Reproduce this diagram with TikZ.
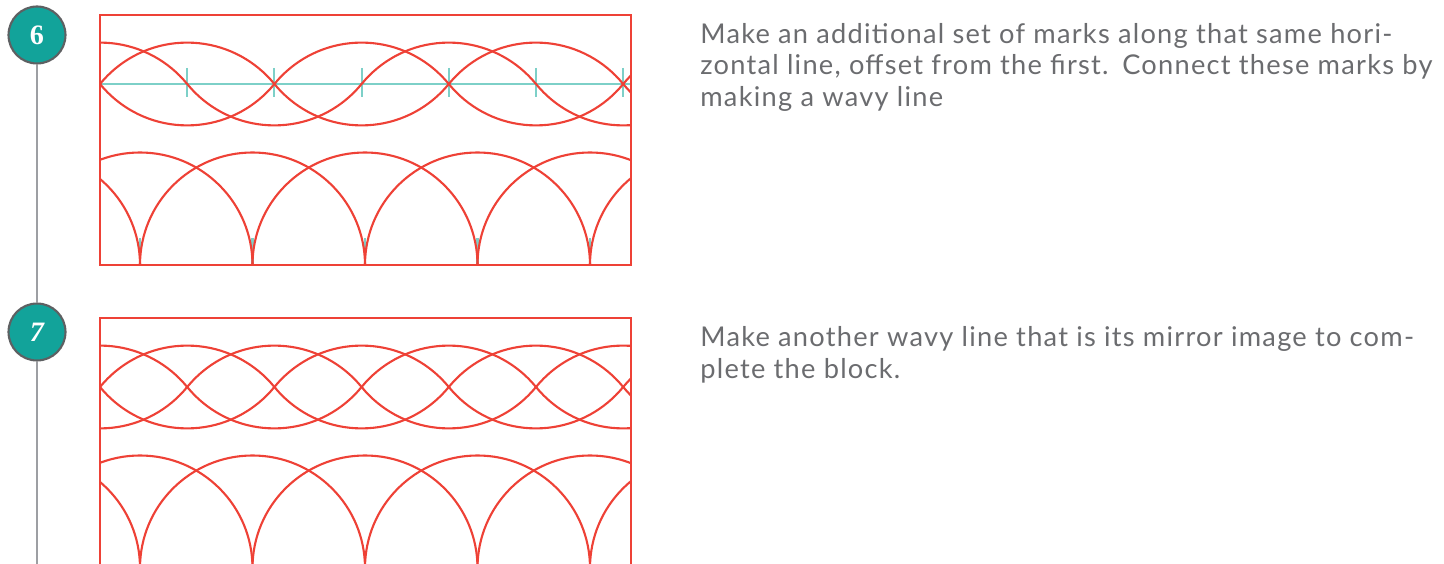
\documentclass[tikz,border=0pt]{standalone}
\usepackage{fontspec}
\setmainfont{Lato}[LetterSpace=4.6]
\newfontfamily\numfont{Liberation Serif}
\definecolor{quiltred}{HTML}{EE4136}
\definecolor{markteal}{HTML}{7DD0C8}
\definecolor{badgeteal}{HTML}{12A39A}
\definecolor{badgerim}{HTML}{5E6062}
\definecolor{stemgray}{HTML}{9D9FA3}
\definecolor{notegray}{HTML}{6B6C6F}
\tikzset{
  redline/.style={quiltred, line width=1.2pt},
  markline/.style={markteal, line width=1.2pt},
  stem/.style={stemgray, line width=1.3pt},
  badge/.style={circle, draw=badgerim, fill=badgeteal, line width=1.2pt,
    minimum size=1.14cm, inner sep=0pt, text=white,
    font=\numfont\fontsize{16}{16}\selectfont\bfseries},
  note/.style={anchor=base west, align=left, inner sep=0pt, text=notegray,
    font=\fontsize{15.5}{17.9}\selectfont},
}

\begin{document}
\begin{tikzpicture}[x=0.02cm,y=-0.02cm]
  \clip (0,0) rectangle (1444,564);
  % timeline
  \node[badge] (b6) at (37,35) {6};
  \node[badge] (b7) at (37,332) {\itshape 7};
  \coordinate (tail) at (37,564);
  \draw[stem] (b6) -- (b7);
  \draw[stem] (b7) -- (tail);

  % panel 6: marks and offset wave
  \draw[markline] (100,84) -- (631,84);
  \foreach \k in {1,...,6}
    \draw[markline] (100+87.2*\k,68) -- (100+87.2*\k,97);
  \foreach \k in {1,...,5}
    \draw[markline] (27.5+112.5*\k,238) -- (27.5+112.5*\k,265);
  \begin{scope}
    \clip (100,15) rectangle (631,265);
    \foreach \k in {0,...,6}
      \draw[redline] (27.5+112.5*\k,265) circle (112.5);
    \begin{scope}
      \clip (100,30) rectangle (631,84);
      \foreach \k in {0,1,3,4,5,7}
        \draw[redline] (100+87.2*\k,155.1) circle (112.5);
    \end{scope}
    \begin{scope}
      \clip (100,84) rectangle (631,140);
      \foreach \k in {1,2,3,5,6,7}
        \draw[redline] (100+87.2*\k,12.9) circle (112.5);
    \end{scope}
  \end{scope}
  \draw[redline] (100,15) rectangle (631,265);

  % panel 7: mirrored wave
  \begin{scope}
    \clip (100,318) rectangle (631,568);
    \foreach \k in {0,...,6}
      \draw[redline] (27.5+112.5*\k,568) circle (112.5);
    \begin{scope}
      \clip (100,333) rectangle (631,387);
      \foreach \k in {0,...,7}
        \draw[redline] (100+87.2*\k,458.1) circle (112.5);
    \end{scope}
    \begin{scope}
      \clip (100,387) rectangle (631,443);
      \foreach \k in {0,...,7}
        \draw[redline] (100+87.2*\k,315.9) circle (112.5);
    \end{scope}
  \end{scope}
  \draw[redline] (100,318) rectangle (631,568);

  % notes (anchored on the last baseline)
  \node[note] (t6) at (700,106.3) {Make an additional set of marks along that same hori-\\
    zontal line, offset from the first.\enspace Connect these marks by\\
    making a wavy line};
  \node[note] (t7) at (700,378.2) {Make another wavy line that is its mirror image to com-\\
    plete the block.};
\end{tikzpicture}
\end{document}
